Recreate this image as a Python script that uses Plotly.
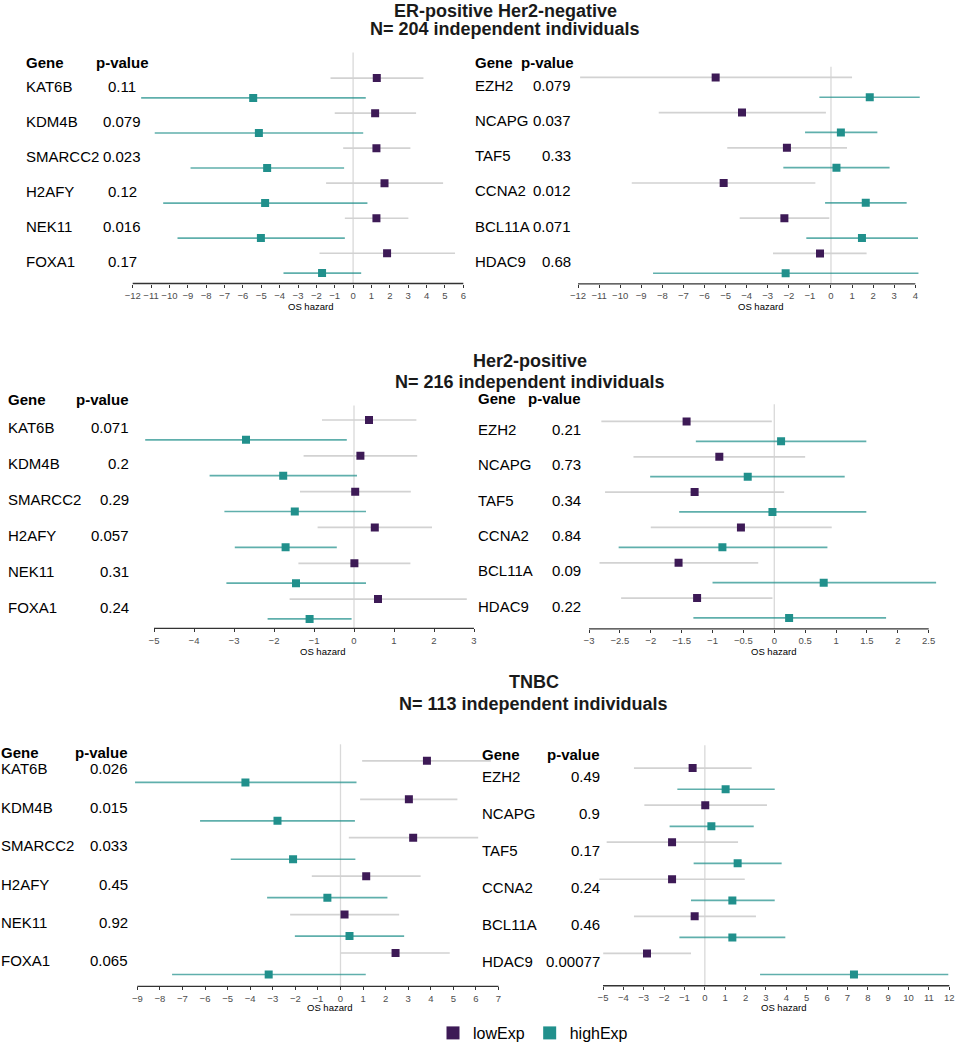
import plotly.graph_objects as go

W, H = 956, 1050

# ---------------- data ----------------
genes_a = ["KAT6B", "KDM4B", "SMARCC2", "H2AFY", "NEK11", "FOXA1"]
genes_b = ["EZH2", "NCAPG", "TAF5", "CCNA2", "BCL11A", "HDAC9"]

# ER-positive Her2-negative, left panel
er_a_pval = ["0.11", "0.079", "0.023", "0.12", "0.016", "0.17"]
er_a_low = [1.29, 1.20, 1.27, 1.71, 1.27, 1.85]
er_a_low_lo = [-1.23, -1.00, -0.54, -1.47, -0.45, -1.83]
er_a_low_hi = [3.83, 3.43, 3.12, 4.90, 3.01, 5.55]
er_a_high = [-5.44, -5.13, -4.68, -4.79, -5.02, -1.69]
er_a_high_lo = [-11.54, -10.80, -8.85, -10.34, -9.56, -3.79]
er_a_high_hi = [0.69, 0.55, -0.49, 0.78, -0.45, 0.44]

# ER-positive Her2-negative, right panel
er_b_pval = ["0.079", "0.037", "0.33", "0.012", "0.071", "0.68"]
er_b_low = [-5.47, -4.22, -2.09, -5.09, -2.21, -0.52]
er_b_low_lo = [-11.90, -8.17, -4.92, -9.45, -4.33, -2.75]
er_b_low_hi = [1.00, -0.24, 0.76, -0.74, -0.08, 1.69]
er_b_high = [1.84, 0.47, 0.26, 1.65, 1.47, -2.15]
er_b_high_lo = [-0.55, -1.23, -2.26, -0.28, -1.17, -8.44]
er_b_high_hi = [4.21, 2.20, 2.78, 3.59, 4.13, 4.15]

# Her2-positive, left panel
her_a_pval = ["0.071", "0.2", "0.29", "0.057", "0.31", "0.24"]
her_a_low = [0.375, 0.16, 0.03, 0.52, 0.01, 0.60]
her_a_low_lo = [-0.80, -1.26, -1.35, -0.91, -1.39, -1.61]
her_a_low_hi = [1.56, 1.58, 1.42, 1.95, 1.41, 2.82]
her_a_high = [-2.70, -1.77, -1.48, -1.71, -1.45, -1.11]
her_a_high_lo = [-5.22, -3.61, -3.24, -2.98, -3.19, -2.16]
her_a_high_hi = [-0.18, 0.075, 0.30, -0.43, 0.30, -0.06]

# Her2-positive, right panel
her_b_pval = ["0.21", "0.73", "0.34", "0.84", "0.09", "0.22"]
her_b_low = [-1.42, -0.89, -1.29, -0.54, -1.55, -1.25]
her_b_low_lo = [-2.80, -2.28, -2.74, -2.00, -2.83, -2.48]
her_b_low_hi = [-0.04, 0.50, 0.16, 0.93, -0.26, -0.03]
her_b_high = [0.11, -0.43, -0.03, -0.84, 0.80, 0.24]
her_b_high_lo = [-1.27, -2.01, -1.54, -2.52, -1.00, -1.31]
her_b_high_hi = [1.49, 1.14, 1.49, 0.86, 2.62, 1.81]

# TNBC, left panel
tn_a_pval = ["0.026", "0.015", "0.033", "0.45", "0.92", "0.065"]
tn_a_low = [3.83, 3.03, 3.22, 1.14, 0.18, 2.44]
tn_a_low_lo = [0.96, 0.87, 0.37, -1.27, -2.23, 0.01]
tn_a_low_hi = [6.66, 5.18, 6.10, 3.55, 2.60, 4.84]
tn_a_high = [-4.21, -2.79, -2.10, -0.58, 0.40, -3.18]
tn_a_high_lo = [-9.10, -6.22, -4.86, -3.25, -2.02, -7.46]
tn_a_high_hi = [0.71, 0.64, 0.66, 2.08, 2.82, 1.12]

# TNBC, right panel
tn_b_pval = ["0.49", "0.9", "0.17", "0.24", "0.46", "0.00077"]
tn_b_low = [-0.60, 0.02, -1.61, -1.61, -0.50, -2.84]
tn_b_low_lo = [-3.48, -2.97, -4.82, -5.18, -3.48, -4.99]
tn_b_low_hi = [2.30, 3.05, 1.63, 1.96, 2.51, -0.68]
tn_b_high = [1.02, 0.32, 1.61, 1.35, 1.35, 7.32]
tn_b_high_lo = [-1.35, -1.73, -0.55, -0.68, -1.25, 2.71]
tn_b_high_hi = [3.43, 2.40, 3.77, 3.43, 3.95, 11.95]

ticks_er_a = [-12, -11, -10, -9, -8, -7, -6, -5, -4, -3, -2, -1, 0, 1, 2, 3, 4, 5, 6]
ticks_er_b = [-12, -11, -10, -9, -8, -7, -6, -5, -4, -3, -2, -1, 0, 1, 2, 3, 4]
ticks_her_a = [-5, -4, -3, -2, -1, 0, 1, 2, 3]
ticks_her_b = [-3, -2.5, -2, -1.5, -1, -0.5, 0, 0.5, 1, 1.5, 2, 2.5]
ticks_tn_a = [-9, -8, -7, -6, -5, -4, -3, -2, -1, 0, 1, 2, 3, 4, 5, 6, 7]
ticks_tn_b = [-5, -4, -3, -2, -1, 0, 1, 2, 3, 4, 5, 6, 7, 8, 9, 10, 11, 12]

titles = [
    ("ER-positive Her2-negative", "N= 204 independent individuals"),
    ("Her2-positive", "N= 216 independent individuals"),
    ("TNBC", "N= 113 independent individuals"),
]
series_names = ["lowExp", "highExp"]

# ---------------- style ----------------
FONT = "Liberation Sans, Arial, Helvetica, sans-serif"
PURPLE = "#3d1a56"
TEAL = "#21908c"
LOW_CI = "#d2d2d2"
HIGH_CI = "rgba(33,144,140,0.72)"
AXIS_COL = "#333333"
TICK_TXT = "#4d4d4d"

panels = [
    dict(genes=genes_a, pval=er_a_pval, low=er_a_low, low_lo=er_a_low_lo, low_hi=er_a_low_hi,
         high=er_a_high, high_lo=er_a_high_lo, high_hi=er_a_high_hi, ticks=ticks_er_a,
         px=(132.7, 463.3), row0=78.7, sp=35.3, off=20, ztop=53, axis=285.7,
         gene_x=25, pv_x=122.3, pv_hdr_x=123, pv_anchor="center", hdr_y=63, os=(310.3, 308.5)),
    dict(genes=genes_b, pval=er_b_pval, low=er_b_low, low_lo=er_b_low_lo, low_hi=er_b_low_hi,
         high=er_b_high, high_lo=er_b_high_lo, high_hi=er_b_high_hi, ticks=ticks_er_b,
         px=(578, 915.3), row0=78, sp=35.47, off=20, ztop=67.3, axis=286,
         gene_x=474, pv_x=572, pv_hdr_x=575, pv_anchor="right", hdr_y=63.3, os=(760.7, 308.8)),
    dict(genes=genes_a, pval=her_a_pval, low=her_a_low, low_lo=her_a_low_lo, low_hi=her_a_low_hi,
         high=her_a_high, high_lo=her_a_high_lo, high_hi=her_a_high_hi, ticks=ticks_her_a,
         px=(154, 474), row0=423.2, sp=36.1, off=20, ztop=408.7, axis=633.3,
         gene_x=7, pv_x=129.5, pv_hdr_x=129.5, pv_anchor="right", hdr_y=402.7, os=(322.2, 656.5)),
    dict(genes=genes_b, pval=her_b_pval, low=her_b_low, low_lo=her_b_low_lo, low_hi=her_b_low_hi,
         high=her_b_high, high_lo=her_b_high_lo, high_hi=her_b_high_hi, ticks=ticks_her_b,
         px=(589, 928.7), row0=424.7, sp=35.6, off=20, ztop=407.3, axis=633.7,
         gene_x=476.5, pv_x=581.5, pv_hdr_x=581.5, pv_anchor="right", hdr_y=401.7, os=(773.3, 656.5)),
    dict(genes=genes_a, pval=tn_a_pval, low=tn_a_low, low_lo=tn_a_low_lo, low_hi=tn_a_low_hi,
         high=tn_a_high, high_lo=tn_a_high_lo, high_hi=tn_a_high_hi, ticks=ticks_tn_a,
         px=(137.3, 498.5), row0=766.7, sp=38.72, off=21.7, ztop=750, axis=994,
         gene_x=0, pv_x=128.5, pv_hdr_x=128.5, pv_anchor="right", hdr_y=758, os=(329, 1015.5)),
    dict(genes=genes_b, pval=tn_b_pval, low=tn_b_low, low_lo=tn_b_low_lo, low_hi=tn_b_low_hi,
         high=tn_b_high, high_lo=tn_b_high_lo, high_hi=tn_b_high_hi, ticks=ticks_tn_b,
         px=(603, 949.3), row0=774, sp=37.34, off=21.3, ztop=751, axis=993.3,
         gene_x=480.5, pv_x=600.5, pv_hdr_x=600.5, pv_anchor="right", hdr_y=760.3, os=(783.3, 1015.5)),
]
title_pos = [(505, 8, 29.3), (530, 363.3, 385), (533.8, 687.3, 709)]


def px_x(p):
    return p / W


def px_y(p):
    return 1 - p / H


fig = go.Figure()
layout = dict(
    width=W, height=H, autosize=False,
    margin=dict(l=0, r=0, t=0, b=0),
    paper_bgcolor="white", plot_bgcolor="rgba(0,0,0,0)",
    font=dict(family=FONT, color="black"),
    showlegend=True,
)
annotations = []
shapes = []
PAD = 14

for k, p in enumerate(panels):
    idx = k + 1
    xa = "x" if idx == 1 else f"x{idx}"
    ya = "y" if idx == 1 else f"y{idx}"
    tmin, tmax = min(p["ticks"]), max(p["ticks"])
    x0, x1 = p["px"]
    scale = (x1 - x0) / (tmax - tmin)
    d0 = max(0.0, x0 - PAD)
    d1 = min(float(W), x1 + PAD)
    xr = [tmin - (x0 - d0) / scale, tmax + (d1 - x1) / scale]
    xdom = [px_x(d0), px_x(d1)]
    ydom = [px_y(p["axis"]), px_y(p["ztop"])]
    ytop = (p["ztop"] - p["row0"]) / p["sp"]
    ybot = (p["axis"] - p["row0"]) / p["sp"]
    d = p["off"] / p["sp"]
    n = len(p["genes"])
    rows = list(range(n))

    layout[f"xaxis{'' if idx == 1 else idx}"] = dict(
        domain=xdom, range=xr, anchor=ya, showgrid=False, zeroline=False, showline=False,
        tickmode="array", tickvals=p["ticks"], ticks="outside", ticklen=3, tickwidth=1,
        tickcolor=AXIS_COL, tickangle=0,
        tickfont=dict(size=9.5, color=TICK_TXT, family=FONT), fixedrange=True,
    )
    layout[f"yaxis{'' if idx == 1 else idx}"] = dict(
        domain=ydom, range=[ybot, ytop], anchor=xa, visible=False, showgrid=False,
        zeroline=False, fixedrange=True,
    )

    # zero reference line
    shapes.append(dict(type="line", xref=xa, yref=f"{ya} domain", x0=0, x1=0, y0=0, y1=1,
                       line=dict(color="#d9d9d9", width=1.3), layer="below"))
    # axis line
    shapes.append(dict(type="line", xref=xa, yref=f"{ya} domain", x0=tmin, x1=tmax, y0=0, y1=0,
                       line=dict(color=AXIS_COL, width=1.3), layer="above"))

    # lowExp
    fig.add_trace(go.Scatter(
        x=p["low"], y=rows, xaxis=xa, yaxis=ya, mode="markers", showlegend=False,
        marker=dict(symbol="square", size=8, color=PURPLE),
        error_x=dict(type="data", symmetric=False,
                     array=[h - e for h, e in zip(p["low_hi"], p["low"])],
                     arrayminus=[e - l for e, l in zip(p["low"], p["low_lo"])],
                     width=0, thickness=1.7, color=LOW_CI),
        name=series_names[0], hoverinfo="skip"))
    # highExp
    fig.add_trace(go.Scatter(
        x=p["high"], y=[r + d for r in rows], xaxis=xa, yaxis=ya, mode="markers", showlegend=False,
        marker=dict(symbol="square", size=8, color=TEAL),
        error_x=dict(type="data", symmetric=False,
                     array=[h - e for h, e in zip(p["high_hi"], p["high"])],
                     arrayminus=[e - l for e, l in zip(p["high"], p["high_lo"])],
                     width=0, thickness=1.7, color=HIGH_CI),
        name=series_names[1], hoverinfo="skip"))

    # gene + p-value labels
    lab_shift = 8 / p["sp"]
    for i, (g, pv) in enumerate(zip(p["genes"], p["pval"])):
        annotations.append(dict(text=g, xref="paper", yref=ya, x=px_x(p["gene_x"]), y=i + lab_shift,
                                xanchor="left", yanchor="middle", showarrow=False, borderpad=0,
                                font=dict(size=15, color="black", family=FONT)))
        annotations.append(dict(text=pv, xref="paper", yref=ya, x=px_x(p["pv_x"]), y=i + lab_shift,
                                xanchor=p["pv_anchor"], yanchor="middle", showarrow=False, borderpad=0,
                                font=dict(size=15, color="black", family=FONT)))
    # headers
    annotations.append(dict(text="<b>Gene</b>", xref="paper", yref="paper", x=px_x(p["gene_x"]),
                            y=px_y(p["hdr_y"]), xanchor="left", yanchor="middle", showarrow=False,
                            borderpad=0, font=dict(size=15, color="black", family=FONT)))
    annotations.append(dict(text="<b>p-value</b>", xref="paper", yref="paper", x=px_x(p["pv_hdr_x"]),
                            y=px_y(p["hdr_y"]), xanchor=p["pv_anchor"], yanchor="middle",
                            showarrow=False, borderpad=0,
                            font=dict(size=15, color="black", family=FONT)))
    # x-axis title
    annotations.append(dict(text="OS hazard", xref="paper", yref="paper", x=px_x(p["os"][0]),
                            y=px_y(p["os"][1]), xanchor="center", yanchor="middle", showarrow=False,
                            borderpad=0, font=dict(size=9.5, color="black", family=FONT)))

for j, ((t1, t2), (cx, y1, y2)) in enumerate(zip(titles, title_pos)):
    if j == 0:
        annotations.append(dict(text=f"<b>{t1}</b>", xref="paper", yref="paper", x=px_x(cx), y=1,
                                xanchor="center", yanchor="top", showarrow=False, borderpad=0,
                                font=dict(size=18, color="#1a1a1a", family=FONT)))
    else:
        annotations.append(dict(text=f"<b>{t1}</b>", xref="paper", yref="paper", x=px_x(cx),
                                y=px_y(y1), xanchor="center", yanchor="middle", showarrow=False,
                                borderpad=0, font=dict(size=18, color="#1a1a1a", family=FONT)))
    annotations.append(dict(text=f"<b>{t2}</b>", xref="paper", yref="paper", x=px_x(cx), y=px_y(y2),
                            xanchor="center", yanchor="middle", showarrow=False, borderpad=0,
                            font=dict(size=18, color="#1a1a1a", family=FONT)))

# legend-only traces
for nm, col in zip(series_names, [PURPLE, TEAL]):
    fig.add_trace(go.Scatter(x=[None], y=[None], mode="markers", name=nm,
                             marker=dict(symbol="square", size=13, color=col), showlegend=True))

layout["legend"] = dict(orientation="h", xanchor="center", x=px_x(533), yanchor="middle",
                        y=px_y(1041), font=dict(size=16, family=FONT, color="black"),
                        bgcolor="rgba(0,0,0,0)", itemclick=False, itemdoubleclick=False)
layout["annotations"] = annotations
layout["shapes"] = shapes
fig.update_layout(**layout)

fig.write_html("out.html", config={"displayModeBar": False},
               post_script="document.body.style.margin='0';document.body.style.overflow='hidden';")
